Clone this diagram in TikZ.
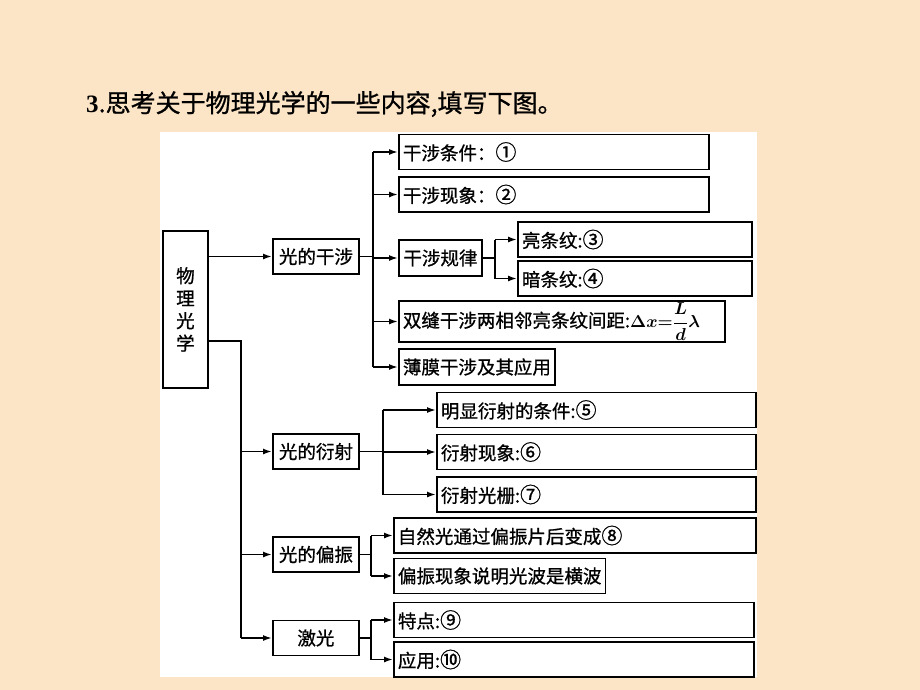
\documentclass[tikz,border=0pt]{standalone}
\usepackage{amsmath,amssymb}
\usepackage{fontspec}
\usepackage{tikz}
\usetikzlibrary{arrows.meta, positioning, calc}
\newfontfamily\cjk{Noto Sans CJK SC}[UprightFeatures={FakeBold=0.9}]
\definecolor{peach}{RGB}{252,228,198}
\newcommand{\cnum}[1]{{\fontsize{21}{20}\selectfont #1}}
\tikzset{
  box/.style={draw, line width=1.9pt, inner xsep=4pt, inner ysep=0pt, minimum height=35pt, font=\cjk\fontsize{18.5}{20}\selectfont},
  leaf/.style={box, anchor=west, align=left},
  mid/.style={box, anchor=west, minimum width=86pt, align=center},
  link/.style={line width=1.7pt},
  arr/.style={link, -{Latex[length=9pt, width=6pt]}}
}
\begin{document}
\begin{tikzpicture}[x=1pt, y=-1pt]
  \fill[peach] (0,0) rectangle (920,690);
  \useasboundingbox (0,0) rectangle (920,690);
  \fill[white] (160,132) rectangle (757,677);

  % title
  \node[anchor=west, inner sep=0pt, font=\cjk\fontsize{25}{27}\selectfont] (title) at (86,104)
    {{\fontspec{Liberation Serif}\bfseries 3}.思考关于物理光学的一些内容,填写下图。};

  % root
  \node[box, anchor=north west, minimum width=45pt, minimum height=157pt, inner xsep=0pt,
        align=center, font=\cjk\fontsize{18.5}{22.5}\selectfont] (wl) at (162,230) {物\\理\\光\\学};

  % second level
  \node[mid] (gs) at (272,256.5) {光的干涉};
  \node[mid] (ys) at (272,451.5) {光的衍射};
  \node[mid] (pz) at (272,554.5) {光的偏振};
  \node[mid] (jg) at (272,638) {激光};

  % interference
  \node[leaf, text width=302pt] (gs1) at (398,152) {干涉条件：\cnum{①}};
  \node[leaf, text width=302pt] (gs2) at (398,194.5) {干涉现象：\cnum{②}};
  \node[leaf, minimum width=83pt, minimum height=36pt] (gs3) at (398,258) {干涉规律};
  \node[leaf, text width=226pt] (gs3a) at (517,239.5) {亮条纹:\cnum{③}};
  \node[leaf, text width=226pt] (gs3b) at (517,278.5) {暗条纹:\cnum{④}};
  \node[leaf, minimum width=326pt, minimum height=41pt, text width=318pt] (gs4) at (398,321.5)
    {双缝干涉两相邻亮条纹间距:$\boldsymbol{\Delta x{=}\dfrac{L}{d}\lambda}$};
  \node[leaf, minimum height=36pt] (gs5) at (398,367) {薄膜干涉及其应用};

  % diffraction
  \node[leaf, text width=311pt] (ys1) at (436,410) {明显衍射的条件:\cnum{⑤}};
  \node[leaf, text width=311pt] (ys2) at (436,452) {衍射现象:\cnum{⑥}};
  \node[leaf, text width=311pt] (ys3) at (436,494.5) {衍射光栅:\cnum{⑦}};

  % polarisation
  \node[leaf, text width=354pt] (pz1) at (393,535.5) {自然光通过偏振片后变成\cnum{⑧}};
  \node[leaf] (pz2) at (393,576) {偏振现象说明光波是横波};

  % laser
  \node[leaf, text width=352pt] (jg1) at (393,620) {特点:\cnum{⑨}};
  \node[leaf, text width=352pt] (jg2) at (393,659.5) {应用:\cnum{⑩}};

  % root to branches
  \coordinate (b1) at (241,341);
  \draw[arr] (wl.east |- gs.west) -- (gs.west);
  \draw[link] (wl.east |- b1) -- (b1) -- (b1 |- jg.west);
  \foreach \n in {ys,pz,jg}
    \draw[arr] (b1 |- \n.west) -- (\n.west);

  % interference links
  \coordinate (b2) at (373,0);
  \draw[link] (b2 |- gs1.west) -- (b2 |- gs5.west);
  \draw[link] (gs.east) -- (b2 |- gs.east);
  \foreach \n in {gs1,gs2,gs3,gs4,gs5}
    \draw[arr] (b2 |- \n.west) -- (\n.west);
  \coordinate (b3) at (495,0);
  \draw[link] (gs3.east) -- (b3 |- gs3.east);
  \draw[link] (b3 |- gs3a.west) -- (b3 |- gs3b.west);
  \foreach \n in {gs3a,gs3b}
    \draw[arr] (b3 |- \n.west) -- (\n.west);

  % diffraction links
  \coordinate (b4) at (383,0);
  \draw[link] (ys.east) -- (b4 |- ys.east);
  \draw[link] (b4 |- ys1.west) -- (b4 |- ys3.west);
  \foreach \n in {ys1,ys2,ys3}
    \draw[arr] (b4 |- \n.west) -- (\n.west);

  % polarisation and laser links
  \coordinate (b5) at (371,0);
  \draw[link] (pz.east) -- (b5 |- pz.east);
  \draw[link] (b5 |- pz1.west) -- (b5 |- pz2.west);
  \draw[link] (jg.east) -- (b5 |- jg.east);
  \draw[link] (b5 |- jg1.west) -- (b5 |- jg2.west);
  \foreach \n in {pz1,pz2,jg1,jg2}
    \draw[arr] (b5 |- \n.west) -- (\n.west);
\end{tikzpicture}
\end{document}
